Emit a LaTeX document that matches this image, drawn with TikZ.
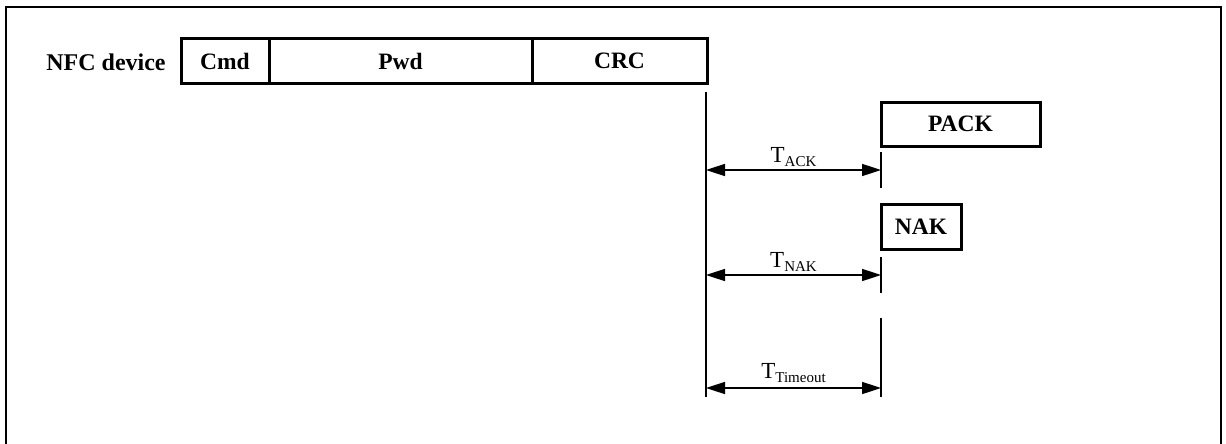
\documentclass[tikz,border=0pt]{standalone}
\usepackage{fontspec}
\setmainfont{Liberation Serif}
\usetikzlibrary{arrows.meta}

\newcommand{\tsub}[1]{\fontsize{23}{26}\selectfont T\raisebox{-4pt}{\fontsize{15}{18}\selectfont #1}}

\begin{document}
\begin{tikzpicture}[x=1pt, y=-1pt,
field_style/.style={draw=black, line width=3pt, minimum height=44pt, inner sep=0pt, outer sep=0pt, font=\fontsize{23.5}{26}\selectfont\bfseries},
frame_style/.style={draw=black, line width=2.2pt},
line_style/.style={draw=black, line width=1.8pt},
dim_style/.style={draw=black, line width=1.6pt, {Triangle[length=19pt,width=12pt]}-{Triangle[length=19pt,width=12pt]}},
dim_label/.style={midway, anchor=base, yshift=8pt, inner sep=0pt}]
\useasboundingbox (0,0) rectangle (1226,444);

% outer frame
\draw[frame_style] (6,444) -- (6,7) -- (1221,7) -- (1221,444);

% command frame
\node[font=\fontsize{24}{26}\selectfont\bfseries] (nfc) at (106,62) {NFC device};
\node[field_style, minimum width=88pt] (cmd) at (225,61) {Cmd};
\node[field_style, minimum width=263pt, anchor=west] (pwd) at (cmd.east) {Pwd};
\node[field_style, minimum width=175pt, anchor=west] (crc) at (pwd.east) {CRC};

% responses
\node[field_style, minimum width=159pt] (pack) at (960.5,124) {PACK};
\node[field_style, minimum width=80pt, minimum height=45pt] (nak) at (921,226.5) {NAK};

% time lines
\coordinate (tl_top) at (706,92);
\coordinate (tl_bot) at (706,397);
\coordinate (ack_top) at (881,152);
\coordinate (ack_bot) at (881,188);
\coordinate (nak_top) at (881,257);
\coordinate (nak_bot) at (881,293);
\coordinate (to_top) at (881,318);
\coordinate (to_bot) at (881,397);
\draw[line_style] (tl_top) -- (tl_bot);
\draw[line_style] (ack_top) -- (ack_bot);
\draw[line_style] (nak_top) -- (nak_bot);
\draw[line_style] (to_top) -- (to_bot);

% timings
\coordinate (ack_l) at (706,170);
\coordinate (ack_r) at (881,170);
\coordinate (nak_l) at (706,275);
\coordinate (nak_r) at (881,275);
\coordinate (to_l) at (706,388);
\coordinate (to_r) at (881,388);
\draw[dim_style] (ack_l) -- node[dim_label] (tack) {\tsub{ACK}} (ack_r);
\draw[dim_style] (nak_l) -- node[dim_label] (tnak) {\tsub{NAK}} (nak_r);
\draw[dim_style] (to_l) -- node[dim_label, yshift=2pt] (tto) {\tsub{Timeout}} (to_r);

\end{tikzpicture}
\end{document}
